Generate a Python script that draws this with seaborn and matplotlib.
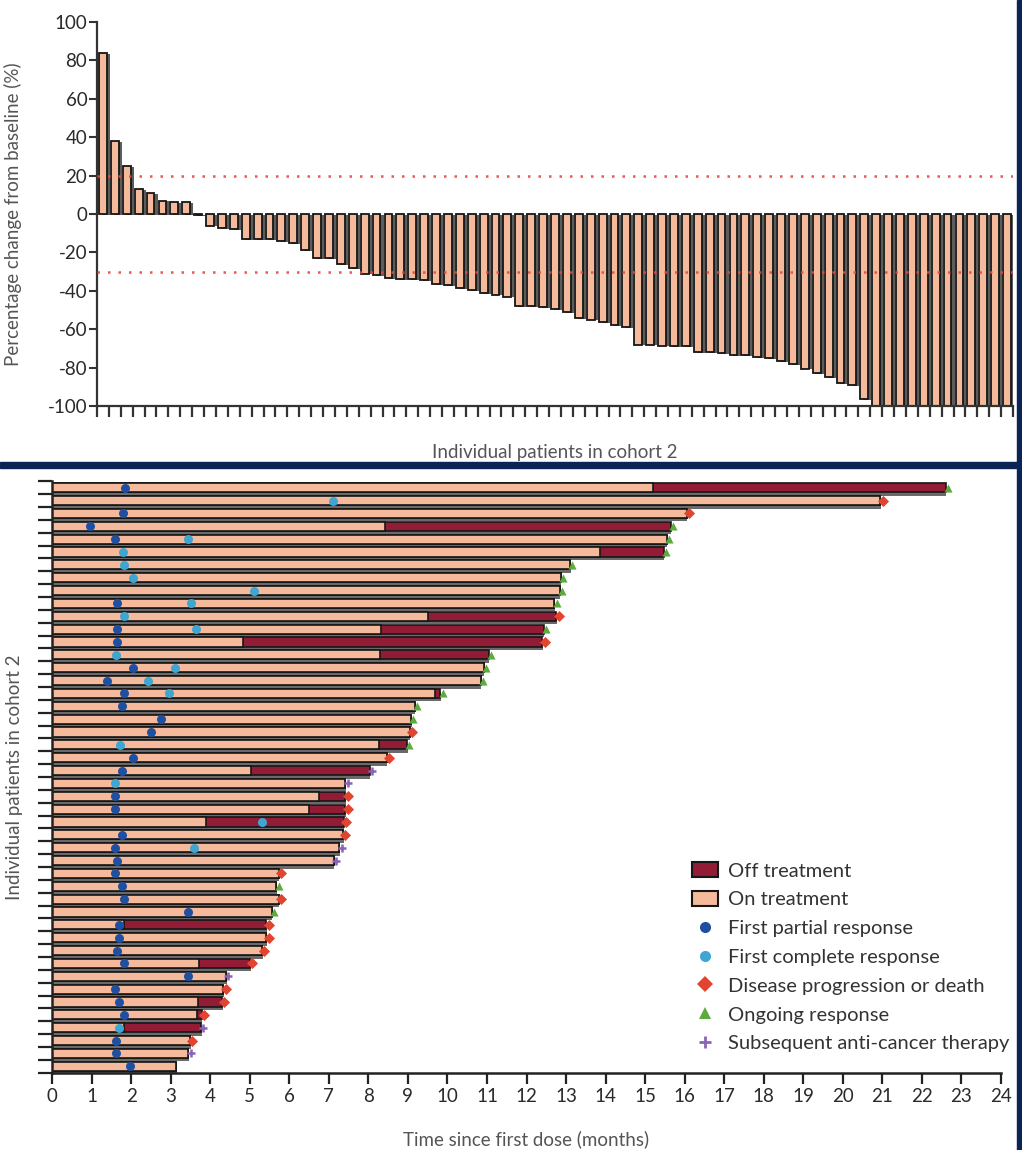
import numpy as np
import pandas as pd
import matplotlib.pyplot as plt
import matplotlib.patheffects as pe
from matplotlib.patches import Patch, Rectangle
from matplotlib.lines import Line2D
import seaborn as sns

# --- waterfall: best percentage change from baseline, cohort 2 ---
pct_change = [84, 38, 25, 13, 11, 7, 6, 6, -0.5, -6,
              -7.5, -8, -13, -13, -13, -14, -15, -19, -23, -23,
              -26, -28, -31, -32, -33.5, -34, -34, -34.5, -36.5, -37,
              -38.5, -39.5, -41, -42, -43, -48, -48, -48.5, -49.5, -51,
              -54, -55, -56.5, -58, -59, -68, -68, -68.5, -69, -69,
              -72, -72, -72.5, -73.5, -73.5, -74.5, -75, -76.5, -78, -80.5,
              -83, -85, -88, -89, -96.5, -100, -100, -100, -100, -100,
              -100, -100, -100, -100, -100, -100, -100]
thresholds = [20, -30]

# --- swimmer plot, one entry per patient (top to bottom), months ---
on_treatment_end = [15.2, 20.95, 16.05, 8.43, 15.55, 13.87, 13.1, 12.86, 12.84, 12.7,
                    9.5, 8.33, 4.82, 8.3, 10.92, 10.84, 9.68, 9.17, 9.08, 9.05,
                    8.28, 8.47, 5.03, 7.42, 6.76, 6.49, 3.89, 7.36, 7.27, 7.12,
                    5.73, 5.67, 5.73, 5.56, 1.82, 5.42, 5.31, 3.72, 4.4, 4.33,
                    3.68, 3.66, 1.82, 3.49, 3.45, 3.14]
last_follow_up = [22.6, 20.95, 16.05, 15.65, 15.55, 15.47, 13.1, 12.86, 12.84, 12.7,
                  12.75, 12.43, 12.4, 11.04, 10.92, 10.84, 9.82, 9.17, 9.08, 9.05,
                  8.98, 8.47, 8.04, 7.42, 7.42, 7.42, 7.38, 7.36, 7.27, 7.12,
                  5.73, 5.67, 5.73, 5.56, 5.42, 5.42, 5.31, 5.01, 4.4, 4.33,
                  4.3, 3.79, 3.77, 3.49, 3.45, 3.14]
nan = np.nan
first_partial = [1.85, nan, 1.79, 0.96, 1.6, nan, nan, nan, nan, 1.65,
                 nan, 1.65, 1.65, nan, 2.04, 1.38, 1.82, 1.76, 2.76, 2.51,
                 nan, 2.04, 1.76, nan, 1.6, 1.6, nan, 1.76, 1.6, 1.65,
                 1.6, 1.76, 1.82, 3.43, 1.7, 1.7, 1.65, 1.82, 3.43, 1.6,
                 1.7, 1.82, nan, 1.62, 1.62, 1.97]
first_complete = [nan, 7.1, nan, nan, 3.43, 1.8, 1.82, 2.06, 5.12, 3.51,
                  1.82, 3.65, nan, 1.62, 3.11, 2.42, 2.97, nan, nan, nan,
                  1.72, nan, nan, 1.6, nan, nan, 5.32, nan, 3.6, nan,
                  nan, nan, nan, nan, nan, nan, nan, nan, nan, nan,
                  nan, nan, 1.7, nan, nan, nan]
end_event = ["ongoing", "progression", "progression", "ongoing", "ongoing", "ongoing",
             "ongoing", "ongoing", "ongoing", "ongoing", "progression", "ongoing",
             "progression", "ongoing", "ongoing", "ongoing", "ongoing", "ongoing",
             "ongoing", "progression", "ongoing", "progression", "therapy", "therapy",
             "progression", "progression", "progression", "progression", "therapy", "therapy",
             "progression", "ongoing", "progression", "ongoing", "progression", "progression",
             "progression", "progression", "therapy", "progression", "progression", "progression",
             "therapy", "progression", "therapy", ""]

SALMON = "#F4BA9B"
MAROON = "#921B36"
EDGE = "#161616"
NAVY = "#0A2456"
event_style = {
    "partial": ("o", "#1F4FA0", 42, "First partial response"),
    "complete": ("o", "#3FA6D2", 42, "First complete response"),
    "progression": ("D", "#E2452F", 32, "Disease progression or death"),
    "ongoing": ("^", "#5DAA3E", 34, "Ongoing response"),
    "therapy": ("+", "#8A63B8", 40, "Subsequent anti-cancer therapy"),
}

sns.set_style("ticks")
plt.rcParams["font.family"] = ["Lato", "DejaVu Sans"]
plt.rcParams["axes.unicode_minus"] = False

W, H = 1022, 1150
fig = plt.figure(figsize=(W / 100, H / 100), dpi=100)

# ---------------- top panel: waterfall ----------------
ax1 = fig.add_axes([97 / W, 1 - 406 / H, 916 / W, 384 / H])
wf = pd.DataFrame({"patient": [str(i + 1) for i in range(len(pct_change))],
                   "change": pct_change})
sns.barplot(data=wf, x="patient", y="change", color=SALMON, saturation=1,
            edgecolor=EDGE, linewidth=1.3, width=0.66, errorbar=None, ax=ax1)
for p in ax1.patches:
    p.set_path_effects([pe.SimplePatchShadow(offset=(2.2, -0.6), shadow_rgbFace="#4a4a4a", alpha=0.9),
                        pe.Normal()])
for t in thresholds:
    ax1.axhline(t, color="#E8493C", lw=1.8, ls=(0, (1, 3.2)), alpha=0.9, zorder=4)

n = len(pct_change)
ax1.set_xlim(-0.5, n - 0.5)
ax1.set_xticks(np.arange(-0.5, n, 1))
ax1.set_xticklabels([])
ax1.set_ylim(-100, 100)
ax1.set_yticks(range(-100, 101, 20))
ax1.tick_params(axis="x", length=8, width=1.6, color="#333333")
ax1.tick_params(axis="y", length=6, width=1.5, color="#333333", labelsize=13.5, labelcolor="#2a2a2a", pad=1)
sns.despine(ax=ax1)
for s in ["left", "bottom"]:
    ax1.spines[s].set_linewidth(1.6)
    ax1.spines[s].set_color("#333333")
ax1.set_xlabel("Individual patients in cohort 2", fontsize=13.5, color="#555555", labelpad=16)
ax1.set_ylabel("Percentage change from baseline (%)", fontsize=13.5, color="#555555")
ax1.yaxis.set_label_coords(-0.082, 0.5)

# ---------------- bottom panel: swimmer plot ----------------
ax2 = fig.add_axes([52 / W, 1 - 1072.7 / H, 949 / W, 591.4 / H])
sw = pd.DataFrame({"row": [f"P{i + 1}" for i in range(len(last_follow_up))],
                   "on": on_treatment_end, "total": last_follow_up})
sns.barplot(data=sw, y="row", x="total", orient="h", color=MAROON, saturation=1,
            edgecolor=EDGE, linewidth=1.2, width=0.72, errorbar=None, ax=ax2)
for p in ax2.patches:
    p.set_path_effects([pe.SimplePatchShadow(offset=(0.4, -2.4), shadow_rgbFace="#5a5a5a", alpha=0.9),
                        pe.Normal()])
sns.barplot(data=sw, y="row", x="on", orient="h", color=SALMON, saturation=1,
            edgecolor=EDGE, linewidth=1.2, width=0.72, errorbar=None, ax=ax2)

rows = np.arange(len(last_follow_up))
events = pd.concat([
    pd.DataFrame({"time": first_partial, "row": rows, "kind": "partial"}),
    pd.DataFrame({"time": first_complete, "row": rows, "kind": "complete"}),
    pd.DataFrame({"time": np.array(last_follow_up) + 0.06, "row": rows, "kind": end_event}),
]).dropna()
events = events[events["kind"] != ""]
for kind, (mk, col, sz, _) in event_style.items():
    sub = events[events["kind"] == kind]
    if mk == "+":
        sns.scatterplot(data=sub, x="time", y="row", marker=mk, color=col, s=sz,
                        linewidth=1.8, ax=ax2, zorder=5, legend=False)
    else:
        sns.scatterplot(data=sub, x="time", y="row", marker=mk, color=col, s=sz,
                        linewidth=0, ax=ax2, zorder=5, legend=False)

ax2.set_xlim(0, 24)
ax2.set_ylim(len(rows) - 0.5, -0.5)
ax2.set_xticks(range(0, 25))
ax2.set_yticks(np.arange(-0.5, len(rows), 1))
ax2.set_yticklabels([])
ax2.tick_params(axis="y", length=10, width=1.6, color="#222222")
ax2.tick_params(axis="x", length=8, width=1.6, color="#222222", labelsize=13.5, labelcolor="#2a2a2a", pad=3)
sns.despine(ax=ax2)
for s in ["left", "bottom"]:
    ax2.spines[s].set_linewidth(1.8)
    ax2.spines[s].set_color("#222222")
ax2.set_xlabel("Time since first dose (months)", fontsize=13.5, color="#555555", labelpad=18)
ax2.set_ylabel("Individual patients in cohort 2", fontsize=13.5, color="#555555")
ax2.yaxis.set_label_coords(-0.031, 0.5)

handles = [Patch(facecolor=MAROON, edgecolor=EDGE, linewidth=1.5, label="Off treatment"),
           Patch(facecolor=SALMON, edgecolor=EDGE, linewidth=1.5, label="On treatment")]
for kind, (mk, col, sz, lab) in event_style.items():
    handles.append(Line2D([], [], marker=mk, color=col, linestyle="none", markersize=8,
                          markeredgewidth=2 if mk == "+" else 0, label=lab))
fig.legend(handles=handles, loc="upper left", bbox_to_anchor=(692 / W, 1 - 862 / H),
           frameon=False, fontsize=14.5, handlelength=1.3, handleheight=0.8,
           handletextpad=0.5, labelspacing=0.55, borderpad=0, borderaxespad=0,
           labelcolor="#333333")

# navy frame strips of the original figure
fig.add_artist(Rectangle((0, 1 - 468 / H), 1, 6 / H, transform=fig.transFigure, color=NAVY))
fig.add_artist(Rectangle((1017 / W, 0), 5 / W, 1, transform=fig.transFigure, color=NAVY))

fig.savefig("out.png", dpi=100, facecolor="white")
